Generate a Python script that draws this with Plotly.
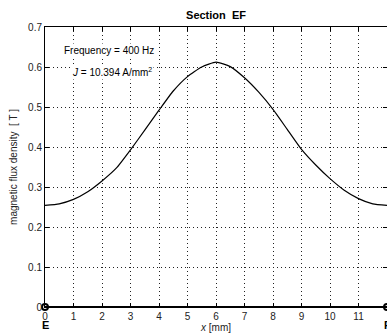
import plotly.graph_objects as go

x_mm = [0, 0.5, 1, 1.5, 2, 2.5, 3, 3.5, 4, 4.5, 5, 5.5, 6,
        6.5, 7, 7.5, 8, 8.5, 9, 9.5, 10, 10.5, 11, 11.5, 12]
b_flux = [0.254, 0.258, 0.269, 0.288, 0.315, 0.347, 0.393, 0.442, 0.492, 0.540, 0.576, 0.600, 0.612,
          0.601, 0.573, 0.537, 0.494, 0.444, 0.394, 0.355, 0.321, 0.292, 0.271, 0.258, 0.254]
section_x = [0, 12]
section_y = [0, 0]
section_labels = ["E", "F"]
x_ticks = list(range(0, 13))
y_ticks = [0, 0.1, 0.2, 0.3, 0.4, 0.5, 0.6, 0.7]
y_tick_text = ["0", "0.1", "0.2", "0.3", "0.4", "0.5", "0.6", "0.7"]

FONT = "Liberation Sans, Arial, sans-serif"

fig = go.Figure()
fig.add_trace(go.Scatter(x=x_mm, y=b_flux, mode="lines",
                         line=dict(color="black", width=1.2, shape="spline", smoothing=0.5),
                         showlegend=False, hoverinfo="skip"))
fig.add_trace(go.Scatter(x=section_x, y=section_y, mode="lines+markers",
                         line=dict(color="black", width=2),
                         marker=dict(symbol="circle-open", size=6, color="black", line=dict(width=2)),
                         showlegend=False, hoverinfo="skip", cliponaxis=False))

for xv, lab in zip(section_x, section_labels):
    fig.add_annotation(x=xv, y=0, xref="x", yref="y", text="<b>" + lab + "</b>",
                       showarrow=False, yshift=-18, font=dict(family=FONT, size=11, color="black"))

fig.add_annotation(x=0.61, y=0.642, xref="x", yref="y", text="Frequency = 400 Hz",
                   showarrow=False, xanchor="left", yanchor="middle", bgcolor="white",
                   font=dict(family=FONT, size=10, color="black"))
fig.add_annotation(x=0.86, y=0.588, xref="x", yref="y", text="<i>J</i> = 10.394 A/mm<sup>2</sup>",
                   showarrow=False, xanchor="left", yanchor="middle", bgcolor="white",
                   font=dict(family=FONT, size=10, color="black"))

grid = dict(showgrid=True, gridcolor="#222", griddash="1px,3px", gridwidth=1)

fig.update_layout(
    width=387, height=333,
    margin=dict(l=45, r=0, t=27, b=26),
    paper_bgcolor="white", plot_bgcolor="white",
    font=dict(family=FONT, size=10, color="#222"),
    title=dict(text="<b>Section  EF</b>", x=0.5, xref="paper", xanchor="center",
               y=1, yref="container", yanchor="top", pad=dict(t=11),
               font=dict(family=FONT, size=11, color="black")),
    xaxis=dict(range=[0, 12], tickvals=x_ticks, ticks="inside", ticklen=4, tickcolor="black",
               showline=True, linecolor="black", linewidth=1, mirror="ticks",
               zeroline=False, tickfont=dict(family=FONT, size=10, color="#222"),
               title=dict(text="<i>x</i> [mm]", standoff=1, font=dict(family=FONT, size=10, color="#222")),
               **grid),
    yaxis=dict(range=[0, 0.7], tickvals=y_ticks, ticktext=y_tick_text, ticks="inside", ticklen=4,
               tickcolor="black", showline=True, linecolor="black", linewidth=1, mirror="ticks",
               zeroline=False, tickfont=dict(family=FONT, size=10, color="#222"),
               title=dict(text="magnetic flux density  [ T ]", standoff=8,
                          font=dict(family=FONT, size=10, color="#222"))),
)
fig.update_yaxes(**grid)

fig.write_html("out.html", config={"displayModeBar": False},
               post_script="document.body.style.margin='0';document.body.style.overflow='hidden';")
